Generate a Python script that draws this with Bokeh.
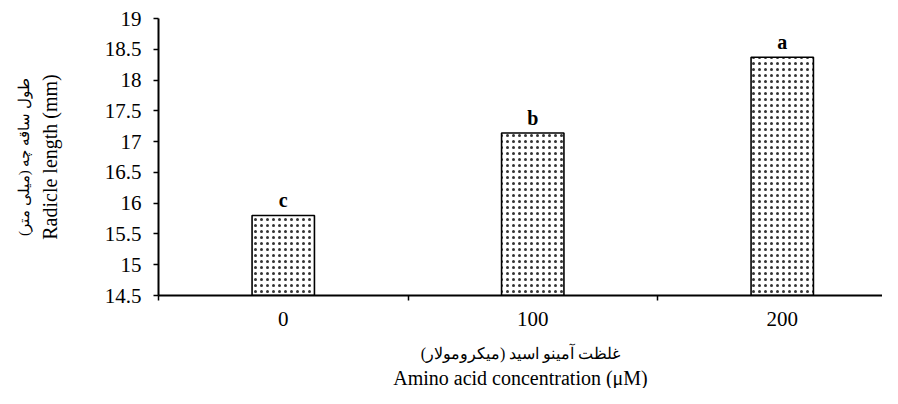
from bokeh.plotting import figure
from bokeh.models import Range1d, FixedTicker, NumeralTickFormatter, ColumnDataSource, Title
from bokeh.core.properties import value
from bokeh.embed import file_html
from bokeh.resources import INLINE

categories = ["0", "100", "200"]
values = [15.80, 17.14, 18.37]
letters = ["c", "b", "a"]
y_ticks = [14.5, 15, 15.5, 16, 16.5, 17, 17.5, 18, 18.5, 19]
y_title_fa = "طول ساقه چه (میلی متر)\u200f"
y_title_en = "Radicle length (mm)"
x_title_fa = "غلظت آمینو اسید (میکرومولار)\u200f"
x_title_en = "Amino acid concentration (μM)"

xs = list(range(len(categories)))
y_min, y_max = y_ticks[0], y_ticks[-1]

src = ColumnDataSource(dict(x=xs, top=values, letter=letters))

FONT = "Liberation Serif"
W, H = 882, 388
LEFT = 158
CAT_PX = 249.5

p = figure(width=W, height=H,
           x_range=Range1d(-0.5, -0.5 + (W - LEFT) / CAT_PX), y_range=Range1d(y_min, y_max),
           output_backend="svg", toolbar_location=None,
           min_border_left=LEFT, min_border_right=0, min_border_top=18, min_border_bottom=90)
p.outline_line_color = None
p.xgrid.visible = False
p.ygrid.visible = False
p.background_fill_color = "white"
p.border_fill_color = "white"

p.vbar(x="x", top="top", bottom=y_min, width=0.25, source=src,
       fill_color="white", line_color="black", line_width=1.6,
       hatch_pattern="dot", hatch_scale=6, hatch_color="#333333", hatch_weight=1.0)

p.text(x="x", y="top", text="letter", source=src,
       text_font=value(FONT), text_font_style="bold", text_font_size="20px",
       text_align="center", text_baseline="alphabetic", y_offset=-15, text_color="black")

# y axis
ya = p.yaxis[0]
ya.ticker = FixedTicker(ticks=y_ticks)
ya.formatter = NumeralTickFormatter(format="0.[0]")
ya.major_tick_out = 5
ya.major_tick_in = 0
ya.minor_tick_out = 0
ya.minor_tick_in = 0
ya.axis_line_width = 2
ya.axis_line_color = "black"
ya.major_tick_line_color = "black"
ya.major_tick_line_width = 1.5
ya.major_label_text_font = FONT
ya.major_label_text_font_size = "21px"
ya.major_label_text_color = "black"
ya.major_label_standoff = 12
ya.axis_label = y_title_en
ya.axis_label_text_font = FONT
ya.axis_label_text_font_style = "normal"
ya.axis_label_text_font_size = "20px"
ya.axis_label_text_color = "black"
ya.axis_label_standoff = 41

# x axis
xa = p.xaxis[0]
xa.ticker = FixedTicker(ticks=xs, minor_ticks=[i - 0.5 for i in xs] + [xs[-1] + 0.5])
xa.major_label_overrides = {i: c for i, c in zip(xs, categories)}
xa.major_tick_out = 0
xa.major_tick_in = 0
xa.minor_tick_out = 5
xa.minor_tick_in = 0
xa.minor_tick_line_color = "black"
xa.minor_tick_line_width = 1.5
xa.axis_line_width = 2
xa.axis_line_color = "black"
xa.major_label_text_font = FONT
xa.major_label_text_font_size = "21px"
xa.major_label_text_color = "black"
xa.major_label_standoff = 11
xa.axis_label = x_title_fa
xa.axis_label_text_font = FONT
xa.axis_label_text_font_style = "normal"
xa.axis_label_text_font_size = "16px"
xa.axis_label_text_color = "black"
xa.axis_label_standoff = 16

# outer lines of the two-line axis titles
p.add_layout(Title(text=y_title_fa, align="center", text_font=FONT, text_font_style="normal",
                   text_font_size="15px", text_color="black", standoff=8), "left")
p.add_layout(Title(text=x_title_en, align="center", text_font=FONT, text_font_style="normal",
                   text_font_size="20px", text_color="black", standoff=0), "below")

open("out.html", "w").write(file_html(p, INLINE))
